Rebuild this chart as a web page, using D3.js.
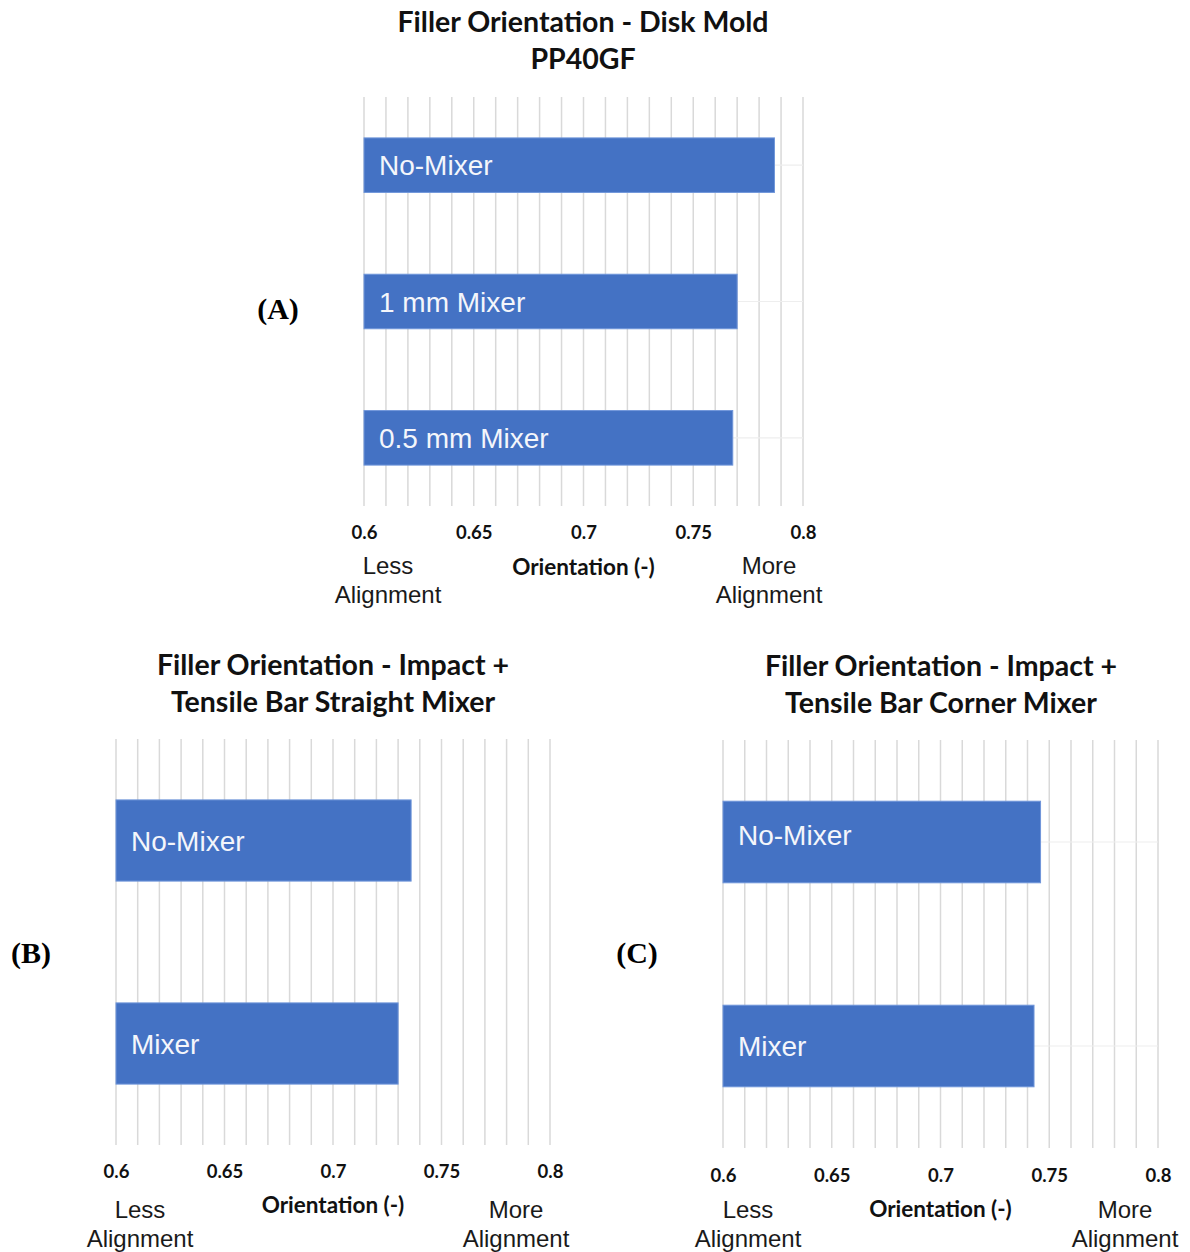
<!DOCTYPE html>
<html>
<head>
<meta charset="utf-8">
<script src="https://cdn.jsdelivr.net/npm/d3@7"></script>
<style>
  html, body { margin: 0; padding: 0; background: #ffffff; }
  svg { display: block; }
</style>
</head>
<body>
<svg id="chart" width="1190" height="1252"></svg>
<script>
// Orientation values per panel
const diskCategories = ["No-Mixer", "1 mm Mixer", "0.5 mm Mixer"];
const diskValues = [0.787, 0.770, 0.768];

const straightCategories = ["No-Mixer", "Mixer"];
const straightValues = [0.736, 0.730];

const cornerCategories = ["No-Mixer", "Mixer"];
const cornerValues = [0.746, 0.743];

const tickValues = [0.6, 0.65, 0.7, 0.75, 0.8];
const tickLabels = ["0.6", "0.65", "0.7", "0.75", "0.8"];
const gridStep = 0.01;
const axisTitle = "Orientation (-)";
const lessLabel = ["Less", "Alignment"];
const moreLabel = ["More", "Alignment"];

const panelTitles = {
  A: ["Filler Orientation - Disk Mold", "PP40GF"],
  B: ["Filler Orientation - Impact +", "Tensile Bar Straight Mixer"],
  C: ["Filler Orientation - Impact +", "Tensile Bar Corner Mixer"]
};

const svg = d3.select("#chart");
const BAR = "#4472C4";
const GRID = "#d9d9d9";
const TITLE_FONT = "Lato, 'Open Sans', sans-serif";
const LABEL_FONT = "'Liberation Sans', Arial, sans-serif";

function drawPanel(o) {
  const g = svg.append("g");
  const x = d3.scaleLinear().domain([0.6, 0.8]).range([o.x0, o.x1]);
  const y = d3.scaleBand().domain(o.categories).range([o.y0, o.y1])
    .paddingInner(0.6).paddingOuter(0.3);

  // vertical gridlines every 0.01
  const gridVals = d3.range(0, 21).map(i => +(0.6 + i * gridStep).toFixed(2));
  g.append("g").selectAll("line").data(gridVals).join("line")
    .attr("x1", d => x(d)).attr("x2", d => x(d))
    .attr("y1", o.y0).attr("y2", o.y1)
    .attr("stroke", GRID).attr("stroke-width", 1.5);

  // faint horizontal category lines
  if (o.hLines) {
    g.append("g").selectAll("line").data(o.categories).join("line")
      .attr("x1", o.x0).attr("x2", o.x1)
      .attr("y1", d => y(d) + y.bandwidth() / 2)
      .attr("y2", d => y(d) + y.bandwidth() / 2)
      .attr("stroke", "#eeeeee").attr("stroke-width", 1.2);
  }

  // bars
  const data = o.categories.map((c, i) => ({ c, v: o.values[i] }));
  g.append("g").selectAll("rect").data(data).join("rect")
    .attr("x", x(0.6))
    .attr("y", d => y(d.c))
    .attr("width", d => x(d.v) - x(0.6))
    .attr("height", y.bandwidth())
    .attr("fill", BAR)
    .attr("stroke", "#7096da").attr("stroke-width", 1);

  // labels inside bars
  g.append("g").selectAll("text").data(data).join("text")
    .attr("x", x(0.6) + 15)
    .attr("y", (d, i) => y(d.c) + y.bandwidth() / 2 + (o.labelShift ? o.labelShift[i] : 0))
    .attr("dy", "0.36em")
    .attr("fill", "#f4f6fb")
    .attr("font-family", LABEL_FONT)
    .attr("font-size", 28)
    .text(d => d.c);

  // x axis tick labels (no axis line)
  const axis = d3.axisBottom(x).tickValues(tickValues)
    .tickFormat((d, i) => tickLabels[i]).tickSize(0).tickPadding(0);
  const ax = g.append("g").attr("transform", `translate(0,${o.tickY})`).call(axis);
  ax.select(".domain").remove();
  ax.selectAll("text")
    .attr("font-family", TITLE_FONT).attr("font-weight", 700)
    .attr("font-size", 18.5).attr("fill", "#111")
    .attr("dy", "0.35em").attr("y", 0);

  // axis title
  g.append("text")
    .attr("x", (o.x0 + o.x1) / 2).attr("y", o.axisTitleY).attr("dy", "0.35em")
    .attr("text-anchor", "middle")
    .attr("font-family", TITLE_FONT).attr("font-weight", 700)
    .attr("font-size", 22.5).attr("fill", "#111")
    .text(axisTitle);

  // less / more alignment hints
  [[lessLabel, o.lessX], [moreLabel, o.moreX]].forEach(([lines, cx]) => {
    lines.forEach((t, i) => {
      g.append("text")
        .attr("x", cx).attr("y", o.hintY + i * 29).attr("dy", "0.35em")
        .attr("text-anchor", "middle")
        .attr("font-family", LABEL_FONT).attr("font-size", 24)
        .attr("fill", "#1a1a1a")
        .text(t);
    });
  });

  // chart title
  o.title.forEach((t, i) => {
    g.append("text")
      .attr("x", o.titleX).attr("y", o.titleY + i * 37.5).attr("dy", "0.35em")
      .attr("text-anchor", "middle")
      .attr("font-family", TITLE_FONT).attr("font-weight", 700)
      .attr("font-size", 28.5).attr("fill", "#111")
      .text(t);
  });

  // panel letter
  g.append("text")
    .attr("x", o.letterX).attr("y", o.letterY).attr("dy", "0.35em")
    .attr("text-anchor", "middle")
    .attr("font-family", "'Liberation Serif', 'DejaVu Serif', serif")
    .attr("font-weight", 700).attr("font-size", 30).attr("fill", "#000")
    .text(o.letter);
}

drawPanel({
  categories: diskCategories, values: diskValues, hLines: true,
  x0: 364, x1: 803, y0: 97, y1: 506,
  tickY: 533, axisTitleY: 567, hintY: 566, lessX: 388, moreX: 769,
  title: panelTitles.A, titleX: 583, titleY: 22,
  letter: "(A)", letterX: 278, letterY: 308
});

drawPanel({
  categories: straightCategories, values: straightValues, hLines: false,
  x0: 116, x1: 550, y0: 739, y1: 1145,
  tickY: 1172, axisTitleY: 1205, hintY: 1210, lessX: 140, moreX: 516,
  title: panelTitles.B, titleX: 333, titleY: 665,
  letter: "(B)", letterX: 31, letterY: 952
});

drawPanel({
  categories: cornerCategories, values: cornerValues, hLines: true,
  x0: 723, x1: 1158, y0: 740, y1: 1148,
  tickY: 1176, axisTitleY: 1209, hintY: 1210, lessX: 748, moreX: 1125,
  title: panelTitles.C, titleX: 941, titleY: 666,
  letter: "(C)", letterX: 637, letterY: 952,
  labelShift: [-7, 0]
});
</script>
</body>
</html>
